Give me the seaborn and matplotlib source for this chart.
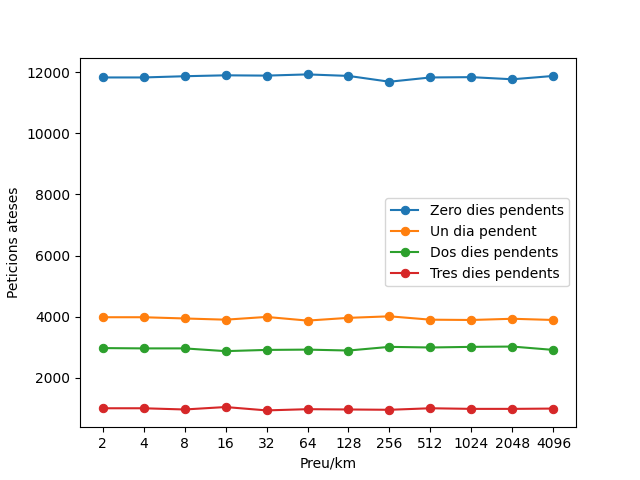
import matplotlib
matplotlib.use("Agg")
import matplotlib.pyplot as plt
import seaborn as sns

preus = ["2", "4", "8", "16", "32", "64", "128", "256", "512", "1024", "2048", "4096"]
zero_dies = [11830, 11830, 11870, 11900, 11890, 11930, 11880, 11690, 11830, 11840, 11770, 11880]
un_dia = [3980, 3980, 3940, 3900, 3990, 3870, 3960, 4010, 3900, 3890, 3930, 3890]
dos_dies = [2970, 2960, 2960, 2870, 2910, 2920, 2890, 3010, 2990, 3010, 3020, 2910]
tres_dies = [1000, 1000, 960, 1040, 930, 970, 960, 950, 1000, 980, 980, 990]

series = [
    ("Zero dies pendents", zero_dies, "#1f77b4"),
    ("Un dia pendent", un_dia, "#ff7f0e"),
    ("Dos dies pendents", dos_dies, "#2ca02c"),
    ("Tres dies pendents", tres_dies, "#d62728"),
]

fig, ax = plt.subplots(figsize=(6.4, 4.8), dpi=100)
pos = list(range(len(preus)))
for nom, vals, col in series:
    sns.lineplot(x=pos, y=vals, ax=ax, color=col, marker="o", markersize=6,
                 markeredgecolor=col, linewidth=1.5, label=nom)

ax.set_xticks(pos)
ax.set_xticklabels(preus)
ax.set_xlabel("Preu/km")
ax.set_ylabel("Peticions ateses")
ax.legend(loc="center right")
fig.savefig("out.png")
